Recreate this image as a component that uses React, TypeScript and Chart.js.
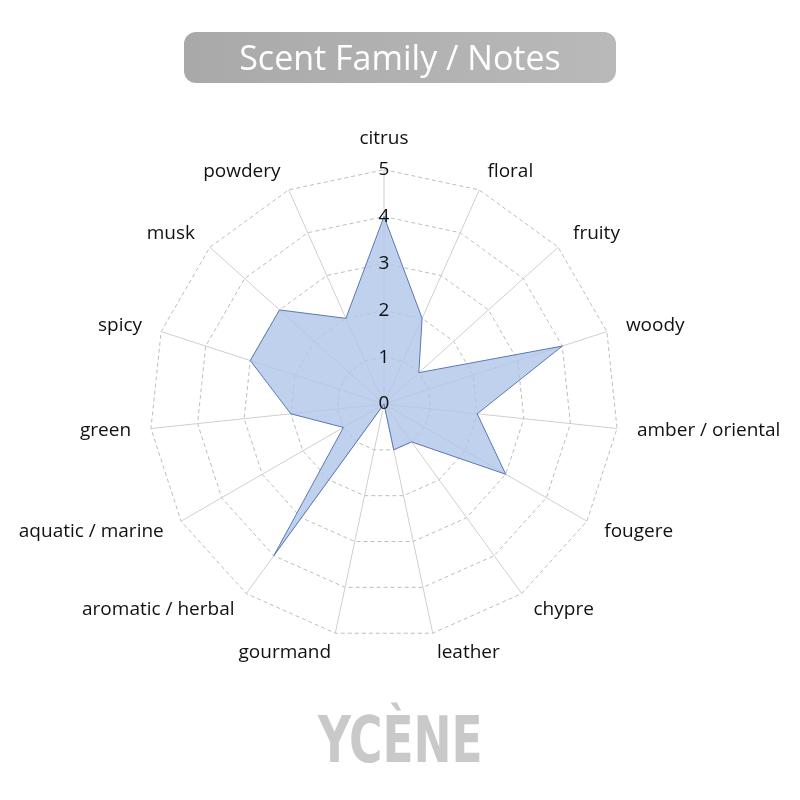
import { useEffect, useRef } from "react";
import { Chart, registerables, type Plugin } from "chart.js";

Chart.register(...registerables);

const notes = [
  "citrus", "floral", "fruity", "woody", "amber / oriental", "fougere",
  "chypre", "leather", "gourmand", "aromatic / herbal", "aquatic / marine",
  "green", "spicy", "musk", "powdery",
];
const scores = [4, 2, 1, 4, 2, 3, 1, 1, 0, 4, 1, 2, 3, 3, 2];
const tickValues = [0, 1, 2, 3, 4, 5];

const LABEL_GAP = 20;
const LABEL_SIZE = 19;
const TICK_SIZE = 19;

// chart.js skips the "0" tick on radial scales, draw it by hand at the centre
const zeroLabel: Plugin<"radar"> = {
  id: "zeroLabel",
  afterDatasetsDraw(chart) {
    const r: any = chart.scales.r;
    const ctx = chart.ctx;
    const p = r.getPointPositionForValue(0, tickValues[0]);
    ctx.save();
    ctx.font = `${TICK_SIZE}px 'Open Sans'`;
    ctx.fillStyle = "#111";
    ctx.textAlign = "center";
    ctx.textBaseline = "middle";
    ctx.fillText(String(tickValues[0]), p.x, p.y);
    ctx.restore();
  },
};

// put the category labels beside their spoke, vertically centred on it
function placeLabels(scale: any) {
  const items = scale._pointLabelItems;
  if (!items) return;
  const lineHeight = LABEL_SIZE * 1.2;
  items.forEach((item: any, i: number) => {
    const p = scale.getPointPosition(i, scale.drawingArea + LABEL_GAP);
    const dx = p.x - scale.xCenter;
    const align = Math.abs(dx) < 4 ? "center" : dx > 0 ? "left" : "right";
    const top = Math.abs(dx) < 4
      ? (p.y < scale.yCenter ? p.y - lineHeight : p.y)
      : p.y - lineHeight / 2;
    item.x = p.x;
    item.y = top;
    item.textAlign = align;
    item.top = top;
    item.bottom = top + lineHeight;
  });
}

function ScentRadar() {
  const canvasRef = useRef<HTMLCanvasElement>(null);

  useEffect(() => {
    if (!canvasRef.current) return;
    const chart = new Chart(canvasRef.current, {
      type: "radar",
      data: {
        labels: notes,
        datasets: [{
          data: scores,
          backgroundColor: "rgba(176,198,232,0.8)",
          borderColor: "#5878b4",
          borderWidth: 1,
          pointRadius: 0,
          fill: true,
        }],
      },
      options: {
        animation: false,
        responsive: false,
        layout: { padding: { top: 112, bottom: 108, left: 8, right: 6 } },
        plugins: { legend: { display: false }, tooltip: { enabled: false } },
        scales: {
          r: {
            min: 0,
            max: 5,
            afterFit: placeLabels,
            ticks: {
              stepSize: 1,
              color: "#111",
              font: { family: "'Open Sans'", size: TICK_SIZE },
              showLabelBackdrop: false,
              z: 2,
            },
            grid: { color: "#bdbdbd", lineWidth: 1 },
            border: { dash: [4, 3] },
            angleLines: { color: "#cfcfcf", lineWidth: 1 },
            pointLabels: {
              color: "#111",
              font: { family: "'Open Sans'", size: LABEL_SIZE },
              padding: 5,
            },
          },
        },
      },
      plugins: [zeroLabel],
    });
    return () => chart.destroy();
  }, []);

  return <canvas ref={canvasRef} width={800} height={800} style={{ position: "absolute", left: 0, top: 0 }} />;
}

export default function App() {
  return (
    <div style={{ position: "absolute", left: 0, top: 0, width: 800, height: 800, background: "#fff", overflow: "hidden" }}>
      <ScentRadar />
      <div style={{
        position: "absolute", left: 184, top: 32, width: 432, height: 51, borderRadius: 12,
        background: "linear-gradient(90deg, #a9a9a9, #b9b9b9)", color: "#fff",
        fontFamily: "'Open Sans'", fontSize: 34, lineHeight: "51px", textAlign: "center",
      }}>Scent Family / Notes</div>
      <div style={{ position: "absolute", left: 0, width: 800, top: 700, textAlign: "center" }}>
        <span style={{
          display: "inline-block", transform: "scaleX(0.79)",
          fontFamily: "'DejaVu Sans Condensed', 'DejaVu Sans'", fontWeight: 700,
          fontSize: 64, color: "#c9c9c9", lineHeight: "80px",
        }}>YCÈNE</span>
      </div>
    </div>
  );
}
